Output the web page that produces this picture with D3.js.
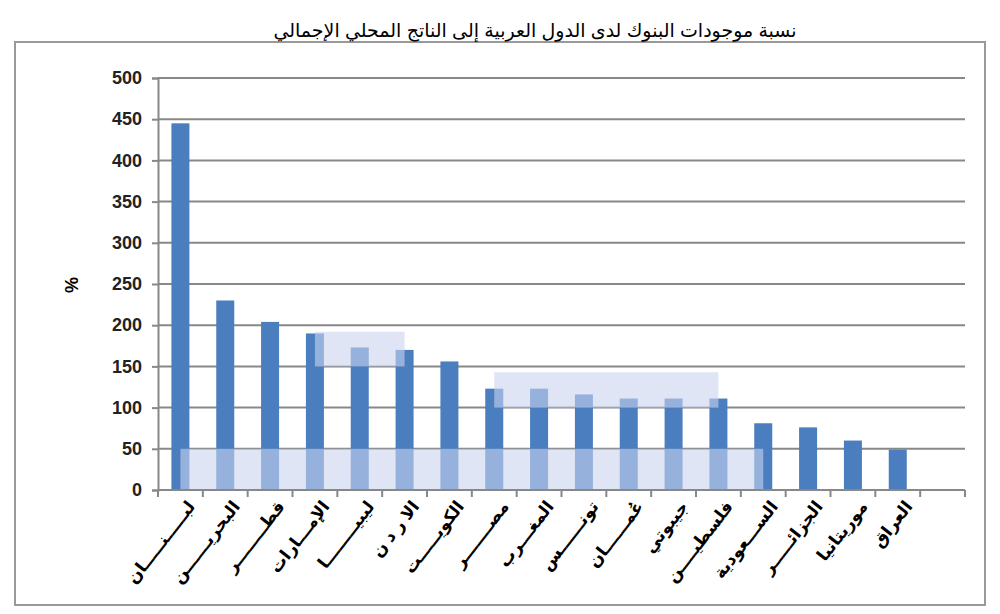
<!DOCTYPE html>
<html><head><meta charset="utf-8">
<script src="https://cdn.jsdelivr.net/npm/d3@7"></script>
<style>body{margin:0;background:#fff;font-family:"Liberation Sans","DejaVu Sans",sans-serif}</style>
</head><body><div id="chart"></div>
<script>
let countries = ['لبـــــنـــــان','البحريــــــن','قطــــــــر','الإمـــارات','ليبيــــــــا','الا  ر  د  ن','الكويـــــت','مصـــــــر','المغـــرب','تونــــــس','عُمــــــان','جيبوتي','فلسطيــــن','الســـعودية','الجزائـــــر','موريتانيا','العراق'];
let values = [445, 230, 204, 190, 173, 170, 156, 123, 123, 116, 111, 111, 111, 81, 76, 60, 49];
let yTicks = [0, 50, 100, 150, 200, 250, 300, 350, 400, 450, 500];
// translucent highlight boxes: [from band, to band, low value, high value]
let boxes = [[0, 13, 0, 50], [3.0, 5.0, 150, 192], [7.0, 12.0, 100, 143]];
let title = 'نسبة موجودات البنوك لدى الدول العربية إلى الناتج المحلي الإجمالي';

let W = 1000, H = 614;
let margin = { top: 78, left: 158, right: 35, bottom: 124 };

const svg = d3.select('#chart').append('svg').attr('width', W).attr('height', H);

svg.append('rect').attr('x', 15).attr('y', 42).attr('width', 970).attr('height', 563)
  .attr('fill', 'none').attr('stroke', '#999').attr('stroke-width', 2);

svg.append('text').attr('x', 535).attr('y', 37).attr('text-anchor', 'middle')
  .style('font-size', '19px').text(title);

let slots = d3.range(countries.length + 1);
let x = d3.scaleBand().domain(slots).range([margin.left, W - margin.right]);
let y = d3.scaleLinear().domain([0, 500]).range([H - margin.bottom, margin.top]);

// grid
svg.append('g').selectAll('line').data(yTicks.slice(1)).join('line')
  .attr('x1', margin.left).attr('x2', W - margin.right)
  .attr('y1', d => y(d)).attr('y2', d => y(d))
  .attr('stroke', '#888').attr('stroke-width', 2);

// bars
let bw = 18;
svg.append('g').selectAll('rect').data(values).join('rect')
  .attr('x', (d, i) => x(i) + x.bandwidth() / 2 - bw / 2)
  .attr('y', d => y(d)).attr('width', bw).attr('height', d => y(0) - y(d))
  .attr('fill', '#4a7ebf');

// overlays
svg.append('g').selectAll('rect').data(boxes).join('rect')
  .attr('x', d => x(0) + (d[0] + 0.5) * x.step())
  .attr('width', d => (d[1] - d[0]) * x.step())
  .attr('y', d => y(d[3])).attr('height', d => y(d[2]) - y(d[3]))
  .attr('fill', '#c9d3ee').attr('opacity', 0.6);

// y axis
const ya = svg.append('g').attr('transform', `translate(${margin.left},0)`)
  .call(d3.axisLeft(y).tickValues(yTicks).tickSize(6).tickPadding(10));
ya.selectAll('text').style('font-size', '18px').style('font-weight', 'bold').attr('fill', '#222');
ya.selectAll('line,path').attr('stroke', '#888').attr('stroke-width', 2);

// x axis with ticks at band boundaries
const xa = svg.append('g').attr('transform', `translate(0,${y(0)})`);
xa.append('line').attr('x1', margin.left).attr('x2', W - margin.right)
  .attr('stroke', '#888').attr('stroke-width', 2);
xa.selectAll('.tk').data(slots.concat([slots.length])).join('line').attr('class', 'tk')
  .attr('x1', d => margin.left + d * x.step()).attr('x2', d => margin.left + d * x.step())
  .attr('y1', 0).attr('y2', 7).attr('stroke', '#888').attr('stroke-width', 2);
xa.selectAll('text').data(countries).join('text')
  .attr('transform', (d, i) => `translate(${x(i) + x.bandwidth() / 2 + 12},14) rotate(-52)`)
  .attr('text-anchor', 'end').attr('dominant-baseline', 'middle')
  .style('font-size', '17px').style('font-weight', 'bold').text(d => d);

svg.append('text').attr('transform', 'translate(78,285) rotate(-90)')
  .attr('text-anchor', 'middle').style('font-size', '18px').style('font-weight', 'bold').text('%');
</script></body></html>
